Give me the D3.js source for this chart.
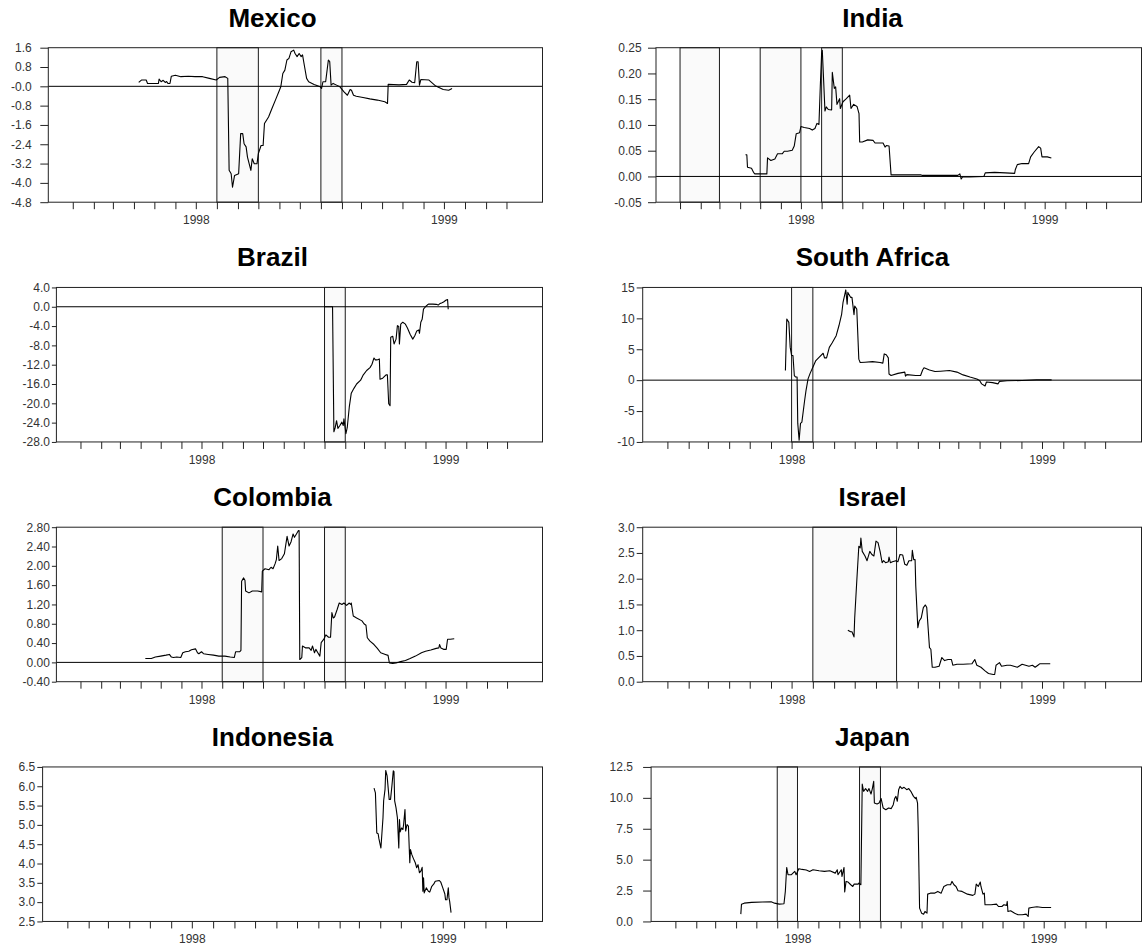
<!DOCTYPE html>
<html>
<head>
<meta charset="utf-8">
<script src="https://cdn.jsdelivr.net/npm/d3@7"></script>
<style>
  body { margin: 0; background: #fff; }
  svg text { font-family: "Liberation Sans", Arial, Helvetica, sans-serif; }
</style>
</head>
<body>
<svg id="chart" width="1142" height="948"></svg>
<script>
// ---- series: [date, value] ----
const mexicoValues = [["1998-04-08",0.16],["1998-04-12",0.26],["1998-04-19",0.26],["1998-04-21",0.12],["1998-05-07",0.12],["1998-05-08",0.30],["1998-05-11",0.19],["1998-05-14",0.25],["1998-05-17",0.16],["1998-05-19",0.20],["1998-05-21",0.12],["1998-05-24",0.12],["1998-05-26",0.42],["1998-06-01",0.46],["1998-06-09",0.40],["1998-06-20",0.42],["1998-06-30",0.40],["1998-07-11",0.40],["1998-07-21",0.33],["1998-07-31",0.26],["1998-08-05",0.37],["1998-08-13",0.40],["1998-08-17",0.33],["1998-08-19",-3.48],["1998-08-22",-3.62],["1998-08-24",-4.18],["1998-08-27",-3.69],["1998-09-02",-3.62],["1998-09-05",-1.96],["1998-09-08",-1.96],["1998-09-10",-2.38],["1998-09-13",-2.51],["1998-09-15",-2.93],["1998-09-20",-3.48],["1998-09-22",-3.0],["1998-09-25",-3.21],["1998-09-29",-3.21],["1998-10-01",-2.79],["1998-10-05",-2.45],["1998-10-08",-2.45],["1998-10-10",-1.54],["1998-10-16",-1.27],["1998-10-21",-0.92],["1998-10-27",-0.51],["1998-11-01",-0.16],["1998-11-03",-0.02],["1998-11-06",0.53],["1998-11-09",0.67],["1998-11-12",1.09],["1998-11-15",1.16],["1998-11-18",1.43],["1998-11-22",1.50],["1998-11-24",1.36],["1998-11-27",1.23],["1998-11-30",1.36],["1998-12-03",1.23],["1998-12-05",1.30],["1998-12-08",0.81],["1998-12-11",0.33],["1998-12-14",0.19],["1998-12-22",0.08],["1998-12-31",-0.02],["1999-01-02",-0.09],["1999-01-04",0.19],["1999-01-08",0.19],["1999-01-12",1.09],["1999-01-14",1.02],["1999-01-16",0.05],["1999-01-19",0.12],["1999-01-24",0.05],["1999-01-29",-0.02],["1999-02-04",-0.23],["1999-02-09",-0.37],["1999-02-13",-0.13],["1999-02-15",-0.16],["1999-02-18",-0.37],["1999-02-22",-0.41],["1999-03-04",-0.46],["1999-03-14",-0.52],["1999-03-25",-0.57],["1999-04-05",-0.64],["1999-04-09",-0.71],["1999-04-10",0.08],["1999-04-26",0.06],["1999-05-07",0.08],["1999-05-11",0.26],["1999-05-15",0.17],["1999-05-19",0.15],["1999-05-22",1.02],["1999-05-24",1.02],["1999-05-26",0.05],["1999-05-28",0.28],["1999-06-09",0.26],["1999-06-19",0.01],["1999-06-30",-0.13],["1999-07-08",-0.16],["1999-07-13",-0.09]];

const indiaValues = [["1998-04-09",0.042],["1998-04-11",0.042],["1998-04-12",0.018],["1998-04-18",0.016],["1998-04-21",0.008],["1998-04-23",0.005],["1998-05-11",0.005],["1998-05-12",0.036],["1998-05-17",0.031],["1998-05-23",0.034],["1998-05-27",0.044],["1998-06-03",0.044],["1998-06-06",0.049],["1998-06-11",0.049],["1998-06-18",0.051],["1998-06-21",0.059],["1998-06-24",0.083],["1998-06-29",0.085],["1998-07-01",0.097],["1998-07-06",0.095],["1998-07-14",0.093],["1998-07-18",0.090],["1998-07-22",0.093],["1998-07-25",0.103],["1998-07-28",0.101],["1998-07-30",0.174],["1998-08-01",0.239],["1998-08-02",0.245],["1998-08-04",0.187],["1998-08-06",0.127],["1998-08-08",0.135],["1998-08-11",0.130],["1998-08-16",0.129],["1998-08-17",0.202],["1998-08-20",0.171],["1998-08-22",0.174],["1998-08-24",0.140],["1998-08-28",0.151],["1998-08-29",0.132],["1998-09-02",0.145],["1998-09-07",0.151],["1998-09-12",0.158],["1998-09-14",0.132],["1998-09-18",0.140],["1998-09-23",0.136],["1998-09-26",0.122],["1998-09-27",0.067],["1998-10-01",0.067],["1998-10-09",0.071],["1998-10-17",0.070],["1998-10-20",0.065],["1998-11-01",0.065],["1998-11-04",0.057],["1998-11-06",0.060],["1998-11-10",0.059],["1998-11-13",0.003],["1998-11-22",0.003],["1998-12-28",0.003],["1998-12-30",0.002],["1999-02-21",0.002],["1999-02-24",0.005],["1999-02-26",-0.005],["1999-02-28",-0.001],["1999-03-10",-0.001],["1999-04-01",0.0],["1999-04-03",0.007],["1999-04-17",0.008],["1999-05-03",0.007],["1999-05-17",0.006],["1999-05-18",0.013],["1999-05-21",0.023],["1999-05-28",0.025],["1999-06-07",0.025],["1999-06-10",0.038],["1999-06-15",0.047],["1999-06-22",0.058],["1999-06-25",0.055],["1999-06-27",0.038],["1999-07-05",0.038],["1999-07-11",0.036]];

const brazilValues = [["1999-01-01",0.0],["1999-01-13",0.0],["1999-01-15",-25.9],["1999-01-17",-25.0],["1999-01-19",-23.6],["1999-01-21",-25.2],["1999-01-24",-24.6],["1999-01-27",-23.9],["1999-01-29",-24.6],["1999-01-30",-23.2],["1999-02-02",-26.3],["1999-02-04",-25.0],["1999-02-07",-20.8],["1999-02-10",-17.9],["1999-02-14",-16.9],["1999-02-18",-16.0],["1999-02-24",-15.2],["1999-02-28",-14.1],["1999-03-05",-13.2],["1999-03-10",-12.6],["1999-03-13",-11.9],["1999-03-16",-10.6],["1999-03-18",-11.0],["1999-03-21",-11.0],["1999-03-24",-10.8],["1999-03-25",-15.0],["1999-03-29",-14.8],["1999-04-03",-14.1],["1999-04-05",-14.1],["1999-04-07",-20.1],["1999-04-09",-20.5],["1999-04-10",-6.3],["1999-04-13",-6.1],["1999-04-15",-7.7],["1999-04-18",-6.7],["1999-04-20",-3.9],["1999-04-22",-4.1],["1999-04-23",-7.7],["1999-04-25",-3.6],["1999-04-28",-3.2],["1999-05-02",-3.6],["1999-05-05",-4.4],["1999-05-09",-5.7],["1999-05-13",-6.7],["1999-05-16",-6.0],["1999-05-19",-5.0],["1999-05-22",-4.8],["1999-05-23",-5.5],["1999-05-25",-3.2],["1999-05-27",-2.6],["1999-05-29",-0.5],["1999-06-01",0.0],["1999-06-04",0.4],["1999-06-06",0.55],["1999-06-12",0.55],["1999-06-17",0.5],["1999-06-20",0.35],["1999-06-23",0.7],["1999-06-25",0.8],["1999-06-28",1.0],["1999-07-02",1.4],["1999-07-04",1.5],["1999-07-05",-0.5]];

const southAfricaValues = [["1998-06-22",1.56],["1998-06-24",9.9],["1998-06-27",9.35],["1998-06-29",5.3],["1998-07-01",4.0],["1998-07-03",4.0],["1998-07-05",0.75],["1998-07-07",0.5],["1998-07-09",0.5],["1998-07-10",-7.0],["1998-07-12",-9.7],["1998-07-14",-7.0],["1998-07-16",-6.8],["1998-07-20",-3.3],["1998-07-22",-1.7],["1998-07-25",0.2],["1998-07-28",1.1],["1998-08-01",2.1],["1998-08-05",3.1],["1998-08-10",3.7],["1998-08-16",4.35],["1998-08-18",3.6],["1998-08-21",3.6],["1998-08-25",5.3],["1998-08-29",6.0],["1998-09-04",7.2],["1998-09-08",8.8],["1998-09-12",10.7],["1998-09-14",12.6],["1998-09-18",14.6],["1998-09-20",12.3],["1998-09-21",14.2],["1998-09-25",13.4],["1998-09-27",13.4],["1998-09-30",10.6],["1998-10-01",12.0],["1998-10-04",11.5],["1998-10-07",3.4],["1998-10-09",2.85],["1998-10-16",2.9],["1998-10-27",3.0],["1998-11-07",2.85],["1998-11-11",2.75],["1998-11-13",4.25],["1998-11-16",4.1],["1998-11-19",3.6],["1998-11-20",1.0],["1998-11-23",0.75],["1998-12-03",1.1],["1998-12-13",1.3],["1998-12-14",0.65],["1998-12-16",0.9],["1998-12-29",0.75],["1999-01-05",0.75],["1999-01-08",1.65],["1999-01-10",2.0],["1999-01-18",1.65],["1999-01-26",1.4],["1999-02-03",1.45],["1999-02-16",1.56],["1999-02-27",1.3],["1999-03-08",0.85],["1999-03-18",0.5],["1999-03-28",0.2],["1999-04-01",-0.05],["1999-04-04",-0.6],["1999-04-09",-0.95],["1999-04-11",-0.3],["1999-04-20",-0.4],["1999-04-28",-0.6],["1999-04-30",-0.2],["1999-05-11",-0.1],["1999-06-02",-0.05],["1999-06-23",0.05],["1999-07-15",0.05]];

const colombiaValues = [["1998-04-08",0.08],["1998-04-17",0.08],["1998-04-23",0.11],["1998-05-01",0.13],["1998-05-09",0.15],["1998-05-14",0.165],["1998-05-17",0.11],["1998-05-20",0.10],["1998-05-25",0.11],["1998-05-31",0.10],["1998-06-03",0.20],["1998-06-07",0.22],["1998-06-12",0.23],["1998-06-16",0.26],["1998-06-22",0.28],["1998-06-25",0.20],["1998-06-27",0.18],["1998-07-01",0.22],["1998-07-04",0.18],["1998-07-11",0.165],["1998-07-19",0.15],["1998-07-27",0.13],["1998-08-05",0.13],["1998-08-13",0.11],["1998-08-19",0.10],["1998-08-21",0.22],["1998-08-27",0.22],["1998-08-29",0.25],["1998-08-30",1.68],["1998-09-02",1.75],["1998-09-04",1.70],["1998-09-05",1.48],["1998-09-10",1.44],["1998-09-15",1.48],["1998-09-23",1.48],["1998-09-29",1.46],["1998-09-30",1.89],["1998-10-04",1.94],["1998-10-10",1.92],["1998-10-13",1.97],["1998-10-16",1.94],["1998-10-19",2.04],["1998-10-21",2.13],["1998-10-23",2.41],["1998-10-25",2.11],["1998-10-29",2.15],["1998-11-02",2.25],["1998-11-06",2.61],["1998-11-09",2.41],["1998-11-12",2.50],["1998-11-15",2.66],["1998-11-17",2.59],["1998-11-20",2.66],["1998-11-23",2.73],["1998-11-24",2.73],["1998-11-25",0.06],["1998-11-28",0.10],["1998-11-29",0.34],["1998-12-04",0.30],["1998-12-09",0.30],["1998-12-12",0.25],["1998-12-14",0.34],["1998-12-17",0.20],["1998-12-19",0.27],["1998-12-22",0.20],["1998-12-25",0.13],["1998-12-27",0.41],["1998-12-31",0.48],["1999-01-03",0.57],["1999-01-07",0.52],["1999-01-10",0.52],["1999-01-12",1.03],["1999-01-14",0.92],["1999-01-16",0.94],["1999-01-20",1.10],["1999-01-23",1.23],["1999-01-27",1.20],["1999-01-30",1.23],["1999-02-03",1.18],["1999-02-07",1.23],["1999-02-09",1.20],["1999-02-10",1.23],["1999-02-13",0.96],["1999-02-18",0.92],["1999-02-26",0.86],["1999-03-01",0.80],["1999-03-04",0.77],["1999-03-06",0.51],["1999-03-10",0.44],["1999-03-16",0.37],["1999-03-21",0.29],["1999-03-26",0.20],["1999-04-02",0.165],["1999-04-06",0.145],["1999-04-08",-0.01],["1999-04-13",-0.02],["1999-04-18",-0.01],["1999-04-23",0.01],["1999-05-02",0.04],["1999-05-09",0.08],["1999-05-17",0.13],["1999-05-26",0.20],["1999-06-01",0.23],["1999-06-09",0.255],["1999-06-17",0.29],["1999-06-21",0.30],["1999-06-22",0.37],["1999-06-24",0.30],["1999-06-28",0.27],["1999-07-02",0.27],["1999-07-04",0.48],["1999-07-08",0.48],["1999-07-14",0.49]];

const israelValues = [["1998-09-21",1.0],["1998-09-25",0.97],["1998-09-27",0.97],["1998-09-30",0.87],["1998-10-01",1.24],["1998-10-04",1.95],["1998-10-07",2.63],["1998-10-09",2.60],["1998-10-10",2.79],["1998-10-12",2.53],["1998-10-16",2.44],["1998-10-19",2.35],["1998-10-23",2.53],["1998-10-26",2.47],["1998-10-29",2.44],["1998-11-01",2.73],["1998-11-04",2.70],["1998-11-07",2.53],["1998-11-10",2.31],["1998-11-12",2.35],["1998-11-15",2.31],["1998-11-19",2.33],["1998-11-20",2.42],["1998-11-22",2.31],["1998-11-25",2.33],["1998-11-30",2.35],["1998-12-03",2.33],["1998-12-06",2.47],["1998-12-10",2.46],["1998-12-13",2.28],["1998-12-16",2.26],["1998-12-19",2.35],["1998-12-23",2.35],["1998-12-24",2.55],["1998-12-26",2.37],["1998-12-28",2.37],["1998-12-29",1.86],["1999-01-01",1.05],["1999-01-03",1.18],["1999-01-06",1.24],["1999-01-09",1.44],["1999-01-12",1.49],["1999-01-14",1.44],["1999-01-15",1.24],["1999-01-18",0.66],["1999-01-20",0.63],["1999-01-22",0.28],["1999-01-26",0.28],["1999-02-01",0.30],["1999-02-05",0.47],["1999-02-09",0.41],["1999-02-14",0.43],["1999-02-19",0.43],["1999-02-21",0.32],["1999-02-27",0.34],["1999-03-08",0.34],["1999-03-21",0.35],["1999-03-25",0.43],["1999-03-28",0.32],["1999-04-03",0.28],["1999-04-09",0.21],["1999-04-14",0.16],["1999-04-21",0.14],["1999-04-23",0.14],["1999-04-25",0.32],["1999-04-30",0.37],["1999-05-03",0.30],["1999-05-11",0.32],["1999-05-16",0.32],["1999-05-21",0.30],["1999-05-26",0.28],["1999-06-02",0.34],["1999-06-07",0.32],["1999-06-12",0.30],["1999-06-17",0.32],["1999-06-21",0.28],["1999-06-25",0.32],["1999-06-28",0.35],["1999-07-03",0.35],["1999-07-13",0.35]];

const indonesiaValues = [["1999-03-23",5.95],["1999-03-25",5.83],["1999-03-27",4.79],["1999-03-29",4.77],["1999-03-30",4.65],["1999-04-02",4.40],["1999-04-05",5.18],["1999-04-06",5.63],["1999-04-08",5.92],["1999-04-09",6.41],["1999-04-11",6.27],["1999-04-14",5.66],["1999-04-16",5.66],["1999-04-18",6.01],["1999-04-20",6.40],["1999-04-21",6.38],["1999-04-22",5.62],["1999-04-24",5.44],["1999-04-26",5.18],["1999-04-28",4.40],["1999-04-29",5.14],["1999-04-30",4.82],["1999-05-02",4.92],["1999-05-04",4.88],["1999-05-05",5.01],["1999-05-07",5.40],["1999-05-08",4.84],["1999-05-10",5.01],["1999-05-12",4.97],["1999-05-14",4.02],["1999-05-15",4.36],["1999-05-17",4.23],["1999-05-19",4.14],["1999-05-22",4.02],["1999-05-24",3.89],["1999-05-26",3.97],["1999-05-28",3.76],["1999-05-30",3.80],["1999-06-01",3.90],["1999-06-02",3.28],["1999-06-03",3.63],["1999-06-04",3.24],["1999-06-07",3.37],["1999-06-10",3.28],["1999-06-12",3.26],["1999-06-15",3.41],["1999-06-18",3.47],["1999-06-20",3.54],["1999-06-26",3.56],["1999-06-28",3.52],["1999-07-01",3.37],["1999-07-04",3.21],["1999-07-05",3.06],["1999-07-07",3.06],["1999-07-09",3.37],["1999-07-10",3.11],["1999-07-11",3.02],["1999-07-13",2.73]];

const japanValues = [["1998-04-08",0.59],["1998-04-09",1.40],["1998-04-13",1.48],["1998-04-24",1.54],["1998-05-10",1.57],["1998-05-23",1.59],["1998-05-28",1.48],["1998-06-04",1.40],["1998-06-11",1.43],["1998-06-13",2.43],["1998-06-15",4.37],["1998-06-17",3.78],["1998-06-22",3.78],["1998-06-27",4.05],["1998-06-29",3.78],["1998-07-03",4.27],["1998-07-08",4.21],["1998-07-14",4.16],["1998-07-19",4.05],["1998-07-24",4.18],["1998-08-02",4.10],["1998-08-10",4.05],["1998-08-18",4.10],["1998-08-26",3.91],["1998-08-29",4.18],["1998-08-30",3.78],["1998-09-04",4.18],["1998-09-05",3.64],["1998-09-08",4.37],["1998-09-09",2.38],["1998-09-11",3.24],["1998-09-14",3.19],["1998-09-18",2.97],["1998-09-21",2.83],["1998-09-23",3.02],["1998-09-29",3.02],["1998-09-30",3.10],["1998-10-03",2.97],["1998-10-05",11.12],["1998-10-07",10.53],["1998-10-10",10.75],["1998-10-13",10.53],["1998-10-15",10.75],["1998-10-18",10.31],["1998-10-20",10.75],["1998-10-22",11.34],["1998-10-23",9.58],["1998-10-27",9.50],["1998-10-30",9.58],["1998-11-02",9.94],["1998-11-05",9.18],["1998-11-09",9.04],["1998-11-13",9.18],["1998-11-17",9.13],["1998-11-20",9.45],["1998-11-22",9.94],["1998-11-24",10.12],["1998-11-26",9.72],["1998-11-28",10.66],["1998-11-30",10.93],["1998-12-03",10.75],["1998-12-06",10.85],["1998-12-10",10.66],["1998-12-13",10.75],["1998-12-16",10.53],["1998-12-20",10.12],["1998-12-23",9.94],["1998-12-24",10.04],["1998-12-26",9.58],["1998-12-27",7.56],["1998-12-29",1.08],["1999-01-01",0.67],["1999-01-04",0.59],["1999-01-06",0.81],["1999-01-09",0.67],["1999-01-10",2.21],["1999-01-14",2.29],["1999-01-20",2.29],["1999-01-25",2.43],["1999-01-30",2.29],["1999-02-03",2.83],["1999-02-08",2.97],["1999-02-13",2.97],["1999-02-15",3.24],["1999-02-18",2.97],["1999-02-21",2.83],["1999-02-24",2.48],["1999-03-02",2.43],["1999-03-10",2.21],["1999-03-18",2.11],["1999-03-21",2.21],["1999-03-23",3.02],["1999-03-26",2.83],["1999-03-29",3.19],["1999-03-30",2.83],["1999-04-02",2.21],["1999-04-04",2.29],["1999-04-05",1.35],["1999-04-14",1.35],["1999-04-22",1.40],["1999-04-25",1.21],["1999-04-30",1.21],["1999-05-03",1.35],["1999-05-07",1.30],["1999-05-08",1.62],["1999-05-09",0.81],["1999-05-13",0.86],["1999-05-19",0.67],["1999-05-24",0.54],["1999-05-30",0.54],["1999-06-05",0.59],["1999-06-08",0.40],["1999-06-09",1.08],["1999-06-13",1.13],["1999-06-21",1.19],["1999-06-29",1.13],["1999-07-05",1.13],["1999-07-12",1.13]];

// ---- shaded periods: [start, end) ----
const mexicoPeriods = [["1998-08-01","1998-10-01"],["1999-01-01","1999-02-01"]];
const indiaPeriods = [["1998-01-01","1998-03-01"],["1998-05-01","1998-07-01"],["1998-08-01","1998-09-01"]];
const brazilPeriods = [["1999-01-01","1999-02-01"]];
const southAfricaPeriods = [["1998-07-01","1998-08-01"]];
const colombiaPeriods = [["1998-08-01","1998-10-01"],["1999-01-01","1999-02-01"]];
const israelPeriods = [["1998-08-01","1998-12-01"]];
const indonesiaPeriods = [];
const japanPeriods = [["1998-06-01","1998-07-01"],["1998-10-01","1998-11-01"]];

// ---- vertical axes: tick values and their printed labels ----
const mexicoTicks = [1.6, 0.8, 0, -0.8, -1.6, -2.4, -3.2, -4.0, -4.8];
const mexicoTickLabels = ["1.6","0.8","-0.0","-0.8","-1.6","-2.4","-3.2","-4.0","-4.8"];
const indiaTicks = [0.25, 0.20, 0.15, 0.10, 0.05, 0, -0.05];
const indiaTickLabels = ["0.25","0.20","0.15","0.10","0.05","0.00","-0.05"];
const brazilTicks = [4, 0, -4, -8, -12, -16, -20, -24, -28];
const brazilTickLabels = ["4.0","0.0","-4.0","-8.0","-12.0","-16.0","-20.0","-24.0","-28.0"];
const southAfricaTicks = [15, 10, 5, 0, -5, -10];
const southAfricaTickLabels = ["15","10","5","0","-5","-10"];
const colombiaTicks = [2.8, 2.4, 2.0, 1.6, 1.2, 0.8, 0.4, 0, -0.4];
const colombiaTickLabels = ["2.80","2.40","2.00","1.60","1.20","0.80","0.40","0.00","-0.40"];
const israelTicks = [3.0, 2.5, 2.0, 1.5, 1.0, 0.5, 0];
const israelTickLabels = ["3.0","2.5","2.0","1.5","1.0","0.5","0.0"];
const indonesiaTicks = [6.5, 6.0, 5.5, 5.0, 4.5, 4.0, 3.5, 3.0, 2.5];
const indonesiaTickLabels = ["6.5","6.0","5.5","5.0","4.5","4.0","3.5","3.0","2.5"];
const japanTicks = [12.5, 10.0, 7.5, 5.0, 2.5, 0];
const japanTickLabels = ["12.5","10.0","7.5","5.0","2.5","0.0"];

// ---- horizontal axis ----
const timeSpan = ["1997-11-26", "1999-11-23"];
const monthTickRange = ["1998-01-01", "1999-10-01"];
const yearLabels = ["1998", "1999"];   // printed under the July tick of each year

const panels = [
  { title: "Mexico",       values: mexicoValues,       periods: mexicoPeriods,       ticks: mexicoTicks,       labels: mexicoTickLabels },
  { title: "India",        values: indiaValues,        periods: indiaPeriods,        ticks: indiaTicks,        labels: indiaTickLabels },
  { title: "Brazil",       values: brazilValues,       periods: brazilPeriods,       ticks: brazilTicks,       labels: brazilTickLabels },
  { title: "South Africa", values: southAfricaValues,  periods: southAfricaPeriods,  ticks: southAfricaTicks,  labels: southAfricaTickLabels },
  { title: "Colombia",     values: colombiaValues,     periods: colombiaPeriods,     ticks: colombiaTicks,     labels: colombiaTickLabels },
  { title: "Israel",       values: israelValues,       periods: israelPeriods,       ticks: israelTicks,       labels: israelTickLabels },
  { title: "Indonesia",    values: indonesiaValues,    periods: indonesiaPeriods,    ticks: indonesiaTicks,    labels: indonesiaTickLabels },
  { title: "Japan",        values: japanValues,        periods: japanPeriods,        ticks: japanTicks,        labels: japanTickLabels }
];

// ---- layout (pixels) ----
const grid = { rowTop: 47.7, rowPitch: 239.75, plotHeight: 154.5,
               colRight: [542.5, 1141.5], titleCenter: [272.5, 872.5] };
const frames = [
  { left: 48.3,  labelRight: 31.7 },
  { left: 656.0, labelRight: 641.7 },
  { left: 56.4,  labelRight: 49.9 },
  { left: 642.7, labelRight: 634.7 },
  { left: 56.4,  labelRight: 49.9 },
  { left: 642.7, labelRight: 634.7 },
  { left: 42.6,  labelRight: 35.3 },
  { left: 651.1, labelRight: 632.9 }
];

const parse = d3.timeParse("%Y-%m-%d");
const svg = d3.select("#chart");
const months = d3.timeMonth.range(parse(monthTickRange[0]), d3.timeDay.offset(parse(monthTickRange[1]), 1));

panels.forEach((p, i) => {
  const col = i % 2, row = Math.floor(i / 2);
  const f = frames[i];
  const top = grid.rowTop + row * grid.rowPitch;
  const bottom = top + grid.plotHeight;
  const left = f.left, right = grid.colRight[col];

  const x = d3.scaleTime().domain(timeSpan.map(parse)).range([left, right]);
  const y = d3.scaleLinear().domain(d3.extent(p.ticks)).range([bottom, top]);

  const g = svg.append("g");

  // title
  g.append("text")
    .attr("x", grid.titleCenter[col])
    .attr("y", top - 21)
    .attr("text-anchor", "middle")
    .attr("font-size", 26)
    .attr("font-weight", "bold")
    .attr("fill", "#000")
    .text(p.title);

  // shaded periods
  g.selectAll("rect.period").data(p.periods).join("rect")
    .attr("class", "period")
    .attr("x", d => x(parse(d[0])))
    .attr("y", top)
    .attr("width", d => x(parse(d[1])) - x(parse(d[0])))
    .attr("height", bottom - top)
    .attr("fill", "#fafafa")
    .attr("stroke", "#1a1a1a")
    .attr("stroke-width", 1);

  // zero reference line
  const [lo, hi] = y.domain();
  if (lo < 0 && hi > 0) {
    g.append("line")
      .attr("x1", left).attr("x2", right)
      .attr("y1", y(0)).attr("y2", y(0))
      .attr("stroke", "#000").attr("stroke-width", 1);
  }

  // series
  const line = d3.line().x(d => x(parse(d[0]))).y(d => y(d[1]));
  g.append("path")
    .datum(p.values)
    .attr("d", line)
    .attr("fill", "none")
    .attr("stroke", "#000")
    .attr("stroke-width", 1.1)
    .attr("stroke-linejoin", "round");

  // frame
  g.append("rect")
    .attr("x", left).attr("y", top)
    .attr("width", right - left).attr("height", bottom - top)
    .attr("fill", "none").attr("stroke", "#222").attr("stroke-width", 1);

  // y axis
  const tickLen = Math.min(8, left - f.labelRight - 2);
  const yAxis = d3.axisLeft(y)
    .tickValues(p.ticks)
    .tickFormat((d, k) => p.labels[k])
    .tickSize(tickLen)
    .tickPadding(left - f.labelRight - tickLen);
  const ya = g.append("g").attr("transform", `translate(${left},0)`).call(yAxis);
  ya.select(".domain").remove();
  ya.selectAll("line").attr("stroke", "#222");
  ya.selectAll("text").attr("font-size", 12).attr("fill", "#333")
    .attr("font-family", "Liberation Sans, Arial, sans-serif");

  // x axis: monthly ticks, year under July
  const xAxis = d3.axisBottom(x)
    .tickValues(months)
    .tickFormat(d => d.getMonth() === 6 ? yearLabels[d.getFullYear() - 1998] : "")
    .tickSize(7)
    .tickPadding(6.5);
  const xa = g.append("g").attr("transform", `translate(0,${bottom})`).call(xAxis);
  xa.select(".domain").remove();
  xa.selectAll("line").attr("stroke", "#222");
  xa.selectAll("text").attr("font-size", 12).attr("fill", "#333")
    .attr("font-family", "Liberation Sans, Arial, sans-serif");
});
</script>
</body>
</html>
